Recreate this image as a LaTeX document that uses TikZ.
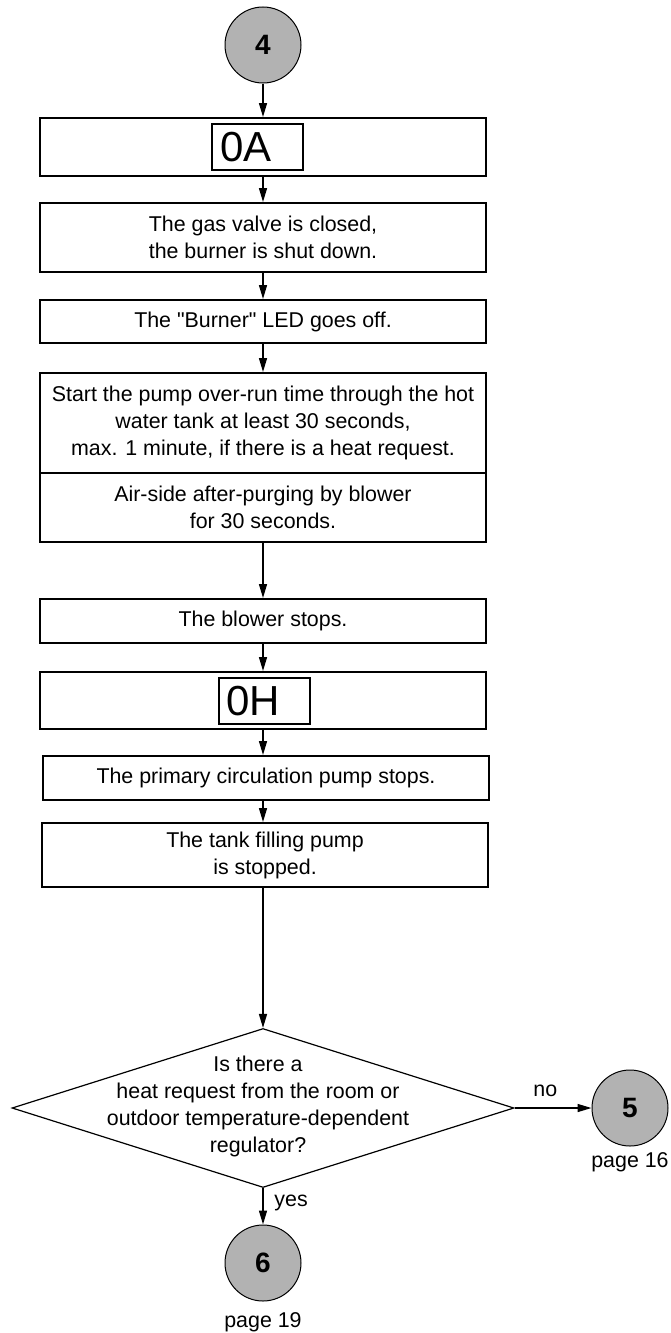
\documentclass[tikz,border=0pt]{standalone}
\usepackage{fontspec}
\setmainfont{Liberation Sans}
\usetikzlibrary{arrows.meta,shapes.geometric}

\newcommand{\txtfont}{\fontsize{10.7pt}{13.5pt}\selectfont}
\newcommand{\dispfont}{\fontsize{21pt}{24pt}\selectfont}

\tikzset{
    stepbox/.style={draw, line width=1pt, minimum width=223pt, inner sep=0pt, align=center, font=\txtfont},
    display/.style={draw, line width=1pt, minimum width=45.5pt, minimum height=23pt, inner xsep=4pt, inner ysep=0pt, text width=37.5pt, align=left, font=\dispfont},
    link/.style={draw, circle, line width=0.5pt, fill=black!30, minimum size=38pt, inner sep=0pt, font=\fontsize{14pt}{16pt}\selectfont\bfseries},
    conn/.style={line width=0.75pt, -{Triangle[length=7pt,width=4pt]}},
    plain/.style={font=\txtfont}
}

\begin{document}
\begin{tikzpicture}[x=0.5pt, y=-0.5pt]
    \useasboundingbox (0, 0) rectangle (670, 1333) ;

    \node[link] (c4) at (263, 45) {4} ;

    \node[stepbox, minimum height=29pt] (boxA) at (263, 147) {} ;
    \node[display] (dispA) at (257.5, 147) {0A} ;

    \node[stepbox, minimum height=34.5pt] (gas) at (263, 237.5) {The gas valve is closed,\\the burner is shut down.} ;
    \node[stepbox, minimum height=21.5pt] (led) at (263, 321.5) {The \textquotedbl Burner\textquotedbl{} LED goes off.} ;
    \node[stepbox, minimum height=50pt] (pump) at (263, 423) {Start the pump over-run time through the hot\\water tank at least 30 seconds,\\max. 1 minute, if there is a heat request.} ;
    \node[stepbox, minimum height=34.5pt] (purge) at (263, 507.5) {Air-side after-purging by blower\\for 30 seconds.} ;
    \node[stepbox, minimum height=22pt] (blower) at (263, 621) {The blower stops.} ;

    \node[stepbox, minimum height=28.5pt] (boxH) at (263, 700.5) {} ;
    \node[display] (dispH) at (264, 701) {0H} ;

    \node[stepbox, minimum height=22pt] (prim) at (266, 778) {The primary circulation pump stops.} ;
    \node[stepbox, minimum height=32pt] (tank) at (265, 855) {The tank filling pump\\is stopped.} ;

    \node[draw, diamond, line width=0.6pt, minimum width=251pt, minimum height=79.5pt, inner sep=0pt] (query) at (263, 1108) {} ;
    \node[plain, align=center] (qtext) at (258, 1106) {Is there a\\heat request from the room or\\outdoor temperature-dependent\\regulator?} ;

    \node[link] (c5) at (630, 1108) {5} ;
    \node[plain] (p16) at (630, 1162) {page 16} ;
    \node[link] (c6) at (263, 1263) {6} ;
    \node[plain] (p19) at (263, 1322) {page 19} ;

    \draw[conn] (c4) -- (boxA) ;
    \draw[conn] (boxA) -- (gas) ;
    \draw[conn] (gas) -- (led) ;
    \draw[conn] (led) -- (pump) ;
    \draw[conn] (purge) -- (blower) ;
    \draw[conn] (blower) -- (boxH) ;
    \draw[conn] (boxH.south) -- (boxH.south |- prim.north) ;
    \draw[conn] (boxH.south |- prim.south) -- (boxH.south |- tank.north) ;
    \draw[conn] (tank.south -| query.north) -- (query.north) ;
    \draw[conn] (query.east) -- node[plain, above, pos=0.4, yshift=2pt] {no} (c5) ;
    \draw[conn] (query.south) -- node[plain, right, pos=0.4, xshift=2pt] {yes} (c6) ;
\end{tikzpicture}
\end{document}
